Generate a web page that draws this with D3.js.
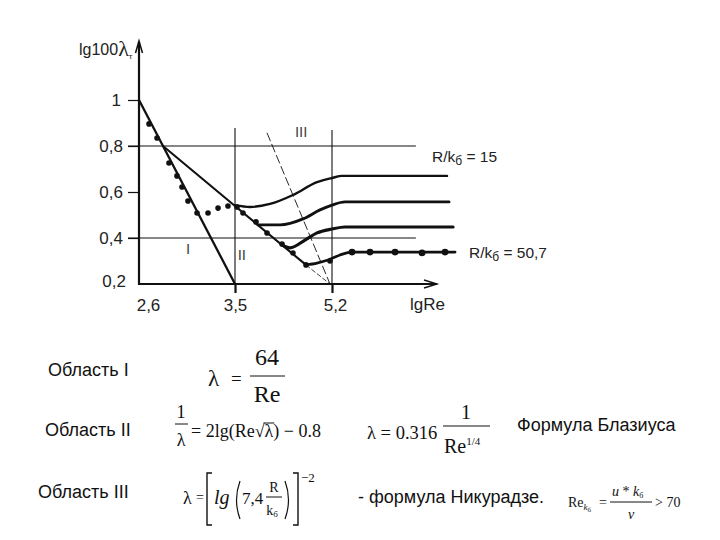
<!DOCTYPE html>
<html><head><meta charset="utf-8">
<script src="https://cdn.jsdelivr.net/npm/d3@7"></script>
<style>body{margin:0;background:#fff} svg{display:block}</style>
</head><body><svg id="c" width="720" height="540"></svg>
<script>
// ---------- data ----------
const xTickValues = [2.6, 3.5, 5.2];
const xTickLabels = ["2,6", "3,5", "5,2"];
const yTickValues = [0.2, 0.4, 0.6, 0.8, 1];
const yTickLabels = ["0,2", "0,4", "0,6", "0,8", "1"];
const gridValues = [0.8, 0.4];
const zoneBoundaryX = [3.5, 5.2];

const laminarX = [2.6, 3.5];
const laminarY = [1.0, 0.2];
const blasiusX = [2.825, 3.5, 4.744];
const blasiusY = [0.8, 0.539, 0.283];
const boundaryIIIX = [4.061, 5.165];
const boundaryIIIY = [0.857, 0.2];
const blasiusTailX = [4.744, 5.165];
const blasiusTailY = [0.283, 0.2];

const curve15X = [3.5, 3.763, 4.113, 4.516, 4.937, 5.2, 5.375, 7.216];
const curve15Y = [0.543, 0.535, 0.548, 0.587, 0.643, 0.661, 0.670, 0.670];
const curveBX = [3.903, 4.289, 4.692, 4.990, 5.2, 5.428, 7.251];
const curveBY = [0.457, 0.457, 0.483, 0.522, 0.543, 0.557, 0.557];
const curveCX = [4.324, 4.464, 4.727, 4.937, 5.2, 5.428, 7.322];
const curveCY = [0.370, 0.357, 0.391, 0.422, 0.439, 0.448, 0.448];
const curve507X = [4.744, 4.937, 5.130, 5.340, 5.551, 7.357];
const curve507Y = [0.283, 0.291, 0.304, 0.326, 0.339, 0.339];

const dotX = [2.694, 2.769, 2.881, 2.956, 3.003, 3.059, 3.144, 3.247, 3.341, 3.434, 3.535, 3.640, 3.868, 4.061, 4.324, 4.516, 4.744, 5.165, 5.551, 5.866, 6.305, 6.778, 7.181];
const dotY = [0.896, 0.835, 0.726, 0.670, 0.622, 0.561, 0.509, 0.509, 0.530, 0.539, 0.535, 0.509, 0.470, 0.422, 0.374, 0.335, 0.283, 0.300, 0.339, 0.339, 0.339, 0.335, 0.339];

const zoneLabels = ["I", "II", "III"];
const zoneLabelX = [3.06, 3.62, 4.66];
const zoneLabelY = [0.349, 0.32, 0.857];
const ratioLabels = ["15", "50,7"];

// ---------- setup ----------
const svg = d3.select("#c");
svg.append("rect").attr("width", 720).attr("height", 540).attr("fill", "#fff");
const SANS = "'Liberation Sans', Arial, sans-serif";
const SERIF = "'Liberation Serif', 'Times New Roman', serif";
const INK = "#111";

const x = d3.scaleLinear().domain([2.6, 3.5, 5.2]).range([139, 235, 332]);
const y = d3.scaleLinear().domain([0.2, 1]).range([284, 100]);
const pts = (xs, ys) => xs.map((v, i) => [x(v), y(ys[i])]);
const straight = d3.line();
const smooth = d3.line().curve(d3.curveMonotoneX);

// gridlines (thin)
const g = svg.append("g");
gridValues.forEach(v => {
  g.append("line").attr("x1", 128).attr("x2", x(6.67)).attr("y1", y(v)).attr("y2", y(v))
    .attr("stroke", INK).attr("stroke-width", 1.1);
});
// zone boundary verticals
zoneBoundaryX.forEach((v, i) => {
  g.append("line").attr("x1", x(v)).attr("x2", x(v)).attr("y1", y(i === 0 ? 0.878 : 0.87)).attr("y2", y(0.2))
    .attr("stroke", INK).attr("stroke-width", 1.1);
});

// y axis
const yAxis = d3.axisLeft(y).tickValues(yTickValues).tickSize(11).tickSizeOuter(0).tickPadding(5)
  .tickFormat((d, i) => yTickLabels[i]);
const ya = svg.append("g").attr("transform", `translate(${x(2.6)},0)`).call(yAxis);
ya.select(".domain").remove();
ya.selectAll(".tick line").attr("stroke", INK).attr("stroke-width", 1.2);
ya.selectAll(".tick text").attr("font-family", SANS).attr("font-size", 17).attr("fill", "#222");
ya.selectAll(".tick").filter(d => d === 0.2).select("line").remove();
ya.selectAll(".tick").filter(d => d === 0.2).select("text").attr("dy", "0.15em").attr("x", -13);
ya.selectAll(".tick").filter(d => d === 1).select("text").attr("x", -18);

// x axis
const xAxis = d3.axisBottom(x).tickValues(xTickValues).tickSize(9).tickSizeOuter(0).tickPadding(6)
  .tickFormat((d, i) => xTickLabels[i]);
const xa = svg.append("g").attr("transform", `translate(0,${y(0.2)})`).call(xAxis);
xa.select(".domain").remove();
xa.selectAll(".tick line").attr("stroke", INK).attr("stroke-width", 2.2);
xa.selectAll(".tick text").attr("font-family", SANS).attr("font-size", 17).attr("fill", "#222");
xa.selectAll(".tick").filter(d => d === 2.6).select("line").remove();
xa.selectAll(".tick").filter(d => d === 2.6).select("text").attr("dx", 9);
xa.selectAll(".tick").filter(d => d === 5.2).select("text").attr("dx", 3);

// axis lines with arrows
svg.append("line").attr("x1", x(2.6)).attr("x2", x(2.6)).attr("y1", y(0.2) + 1).attr("y2", 42)
  .attr("stroke", INK).attr("stroke-width", 2.2);
svg.append("path").attr("d", `M${x(2.6) - 3.5},53 L${x(2.6)},41 L${x(2.6) + 3.5},53`)
  .attr("fill", "none").attr("stroke", INK).attr("stroke-width", 1.5);
svg.append("line").attr("x1", x(2.6)).attr("x2", 437).attr("y1", y(0.2)).attr("y2", y(0.2))
  .attr("stroke", INK).attr("stroke-width", 2);
svg.append("path").attr("d", `M424,280 L437,${y(0.2)} L424,288`)
  .attr("fill", "none").attr("stroke", INK).attr("stroke-width", 1.4);

// axis titles
const yt = svg.append("text").attr("x", 79).attr("y", 55).attr("font-family", SANS).attr("font-size", 16).attr("fill", "#222");
yt.append("tspan").text("lg100");
yt.append("tspan").attr("font-family", SERIF).attr("font-size", 22).attr("dy", 1).text("λ");
yt.append("tspan").attr("font-size", 8).attr("dy", 3).text("т");
svg.append("text").attr("x", 410).attr("y", 310).attr("font-family", SANS).attr("font-size", 17).attr("fill", "#222").text("lgRe");

// boundary III (dashed)
svg.append("path").attr("d", straight(pts(boundaryIIIX, boundaryIIIY)))
  .attr("fill", "none").attr("stroke", INK).attr("stroke-width", 0.9).attr("stroke-dasharray", "9,3");
svg.append("path").attr("d", straight(pts(blasiusTailX, blasiusTailY)))
  .attr("fill", "none").attr("stroke", INK).attr("stroke-width", 0.8).attr("stroke-dasharray", "5,2");

// main lines
svg.append("path").attr("d", straight(pts(laminarX, laminarY)))
  .attr("fill", "none").attr("stroke", INK).attr("stroke-width", 2.3);
svg.append("path").attr("d", straight(pts(blasiusX, blasiusY)))
  .attr("fill", "none").attr("stroke", INK).attr("stroke-width", 2.1);

// transition curves
[[curve15X, curve15Y, 2.4], [curveBX, curveBY, 2.9], [curveCX, curveCY, 3.1], [curve507X, curve507Y, 2.7]]
  .forEach(([xs, ys, w]) => {
    svg.append("path").attr("d", smooth(pts(xs, ys)))
      .attr("fill", "none").attr("stroke", INK).attr("stroke-width", w).attr("stroke-linecap", "round");
  });

// experimental dots
svg.append("g").selectAll("circle").data(dotX.map((v, i) => [v, dotY[i]])).join("circle")
  .attr("cx", d => x(d[0])).attr("cy", d => y(d[1])).attr("r", (d, i) => i >= 18 ? 3.4 : 2.8).attr("fill", INK);

// zone labels
zoneLabels.forEach((t, i) => {
  svg.append("text").attr("x", x(zoneLabelX[i])).attr("y", y(zoneLabelY[i])).attr("text-anchor", "middle")
    .attr("dominant-baseline", "middle").attr("font-family", SANS).attr("font-size", 15).attr("fill", "#444").text(t);
});

// ratio labels
function ratio(xp, yp, val) {
  const t = svg.append("text").attr("x", xp).attr("y", yp).attr("font-family", SANS).attr("font-size", 15.5).attr("fill", "#222");
  t.append("tspan").text("R/k");
  t.append("tspan").attr("font-size", 12).attr("dy", 3).text("б");
  t.append("tspan").attr("dy", -3).text(" = " + val);
}
ratio(432, 162, ratioLabels[0]);
ratio(469, 258, ratioLabels[1]);

// ---------- formulas ----------
function txt(s, xp, yp, o = {}) {
  const t = svg.append("text").attr("x", xp).attr("y", yp)
    .attr("font-family", o.f || SERIF).attr("font-size", o.s || 18).attr("fill", o.c || INK)
    .attr("text-anchor", o.a || "start").text(s);
  if (o.i) t.attr("font-style", "italic");
  return t;
}
function bar(x1, x2, yp, w = 1) {
  svg.append("line").attr("x1", x1).attr("x2", x2).attr("y1", yp).attr("y2", yp).attr("stroke", INK).attr("stroke-width", w);
}
function stroke(d, w = 1.2) {
  svg.append("path").attr("d", d).attr("fill", "none").attr("stroke", INK).attr("stroke-width", w);
}

// Область labels
txt("Область I", 48, 376, {f: SANS, s: 18, c: "#111"});
txt("Область II", 45, 436, {f: SANS, s: 18, c: "#111"});
txt("Область III", 38, 498, {f: SANS, s: 18, c: "#111"});

// formula 1: λ = 64 / Re
txt("λ", 208, 386, {s: 23});
txt("=", 231, 385, {s: 19});
txt("64", 267, 365, {s: 24, a: "middle"});
bar(250, 285, 376);
txt("Re", 267, 402, {s: 24, a: "middle"});

// formula 2: 1/λ = 2lg(Re√λ) − 0.8
txt("1", 181, 418, {s: 18, a: "middle"});
bar(175, 188, 424);
txt("λ", 181, 446, {s: 18, a: "middle"});
const f2 = txt("", 191, 437, {s: 18});
f2.append("tspan").text("= 2lg(Re");
f2.append("tspan").text("√");
f2.append("tspan").text("λ");
f2.append("tspan").text(") − 0.8");
{
  const n = f2.node();
  const s = "= 2lg(Re√λ) − 0.8";
  const a = n.getStartPositionOfChar(s.indexOf("λ")).x;
  const b = n.getEndPositionOfChar(s.indexOf("λ")).x;
  bar(a - 1, b + 1, 423, 1);
}

// Blasius
txt("λ = 0.316", 367, 439, {s: 18.5});
txt("1", 466, 419, {s: 20, a: "middle"});
bar(443, 490, 426);
const re4 = txt("Re", 444, 453, {s: 20});
re4.append("tspan").attr("font-size", 11).attr("dy", -8).text("1/4");
txt("Формула Блазиуса", 517, 431, {f: SANS, s: 18, c: "#111"});

// formula 3: λ = [lg(7,4 R/kб)]^-2
txt("λ", 183, 504, {s: 18});
txt("=", 196, 502, {s: 14});
stroke("M212,473 L207,473 L207,525 L212,525", 1.4);
txt("lg", 214, 504, {s: 20, i: true});
stroke("M240,481 Q233,500 240,519", 1.2);
txt("7,4", 242, 504, {s: 17});
txt("R", 274, 492, {s: 14, a: "middle"});
bar(266, 282, 497);
const kb = txt("k", 272, 515, {s: 14, a: "middle"});
kb.append("tspan").attr("font-size", 9).attr("dy", 2).text("б");
stroke("M285,481 Q292,500 285,519", 1.2);
stroke("M293,473 L298,473 L298,525 L293,525", 1.4);
txt("−2", 301, 482, {s: 13});

txt("- формула Никурадзе.", 358, 503, {f: SANS, s: 18, c: "#111"});

// Re_kб = u*kб / ν > 70
const rk = txt("Re", 568, 507, {s: 14});
rk.append("tspan").attr("font-size", 9).attr("dy", 3).attr("font-style", "italic").text("k");
rk.append("tspan").attr("font-size", 7).attr("dy", 2).text("б");
txt("=", 599, 507, {s: 14});
const num = txt("u", 612, 496, {s: 14, i: true});
num.append("tspan").attr("font-style", "normal").text(" * ");
num.append("tspan").text("k");
num.append("tspan").attr("font-size", 8).attr("dy", 2).attr("font-style", "normal").text("б");
bar(610, 652, 502);
txt("ν", 631, 519, {s: 14, i: true, a: "middle"});
txt("> 70", 655, 507, {s: 14});
</script></body></html>
